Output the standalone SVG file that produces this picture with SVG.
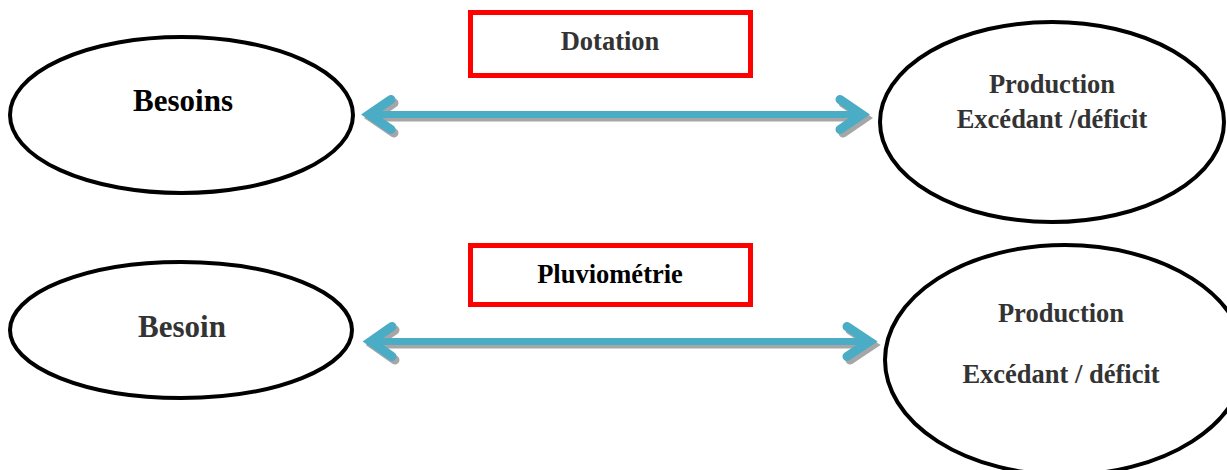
<svg xmlns="http://www.w3.org/2000/svg" width="1227" height="470" viewBox="0 0 1227 470">
  <defs>
    <style>
      .ell { fill: #ffffff; stroke: #000000; stroke-width: 4; }
      .box { fill: #ffffff; stroke: #ff0000; stroke-width: 5; }
      .lbl { font-family: "Liberation Serif", "Times New Roman", serif; font-weight: bold; text-anchor: middle; }
      .dark { fill: #333333; }
      .black { fill: #000000; }
      .shaft { fill: none; stroke-width: 7; }
      .head { fill: none; stroke-width: 9; stroke-linecap: round; stroke-linejoin: miter; stroke-miterlimit: 10; }
      .teal { stroke: #4bacc6; }
      .shade { stroke: #a6a6a6; }
    </style>
    <!-- double-headed arrows, drawn around y = 0 -->
    <g id="dbl-arrow-top">
      <path class="shaft" d="M368,0 L863,0"/>
      <path class="head" d="M391,-15 L369,0 L391,15"/>
      <path class="head" d="M840,-15 L862,0 L840,15"/>
    </g>
    <g id="dbl-arrow-bottom">
      <path class="shaft" d="M370,0 L869,0"/>
      <path class="head" d="M392,-15 L370.5,0 L392,15"/>
      <path class="head" d="M847,-15 L869.5,0 L847,15"/>
    </g>
  </defs>

  <rect width="1227" height="470" fill="#ffffff"/>

  <!-- connectors -->
  <g id="connectors">
    <g id="arrow-top">
      <use href="#dbl-arrow-top" class="shade" transform="translate(3,118)"/>
      <use href="#dbl-arrow-top" class="teal" transform="translate(0,114.5)"/>
    </g>
    <g id="arrow-bottom">
      <use href="#dbl-arrow-bottom" class="shade" transform="translate(3,345)"/>
      <use href="#dbl-arrow-bottom" class="teal" transform="translate(0,341.5)"/>
    </g>
  </g>

  <!-- top row -->
  <g id="besoins">
    <ellipse class="ell" cx="181.5" cy="115" rx="171.5" ry="78"/>
    <text class="lbl black" x="183" y="111" font-size="31">Besoins</text>
  </g>
  <g id="dotation">
    <rect class="box" x="470.5" y="12.5" width="280" height="63"/>
    <text class="lbl dark" x="610" y="50" font-size="26.5">Dotation</text>
  </g>
  <g id="production-1">
    <ellipse class="ell" cx="1052" cy="122" rx="172" ry="100"/>
    <text class="lbl dark" x="1052" y="93" font-size="26.5">Production</text>
    <text class="lbl dark" x="1052" y="128" font-size="26.5">Excédant /déficit</text>
  </g>

  <!-- bottom row -->
  <g id="besoin">
    <ellipse class="ell" cx="181" cy="330" rx="171" ry="68"/>
    <text class="lbl dark" x="182" y="337" font-size="31">Besoin</text>
  </g>
  <g id="pluviometrie">
    <rect class="box" x="470.5" y="245.5" width="280" height="59"/>
    <text class="lbl black" x="610" y="283" font-size="26.5">Pluviométrie</text>
  </g>
  <g id="production-2">
    <ellipse class="ell" cx="1065" cy="360" rx="180" ry="115"/>
    <text class="lbl dark" x="1061" y="322" font-size="26.5">Production</text>
    <text class="lbl dark" x="1061" y="383" font-size="26.5">Excédant / déficit</text>
  </g>
</svg>
